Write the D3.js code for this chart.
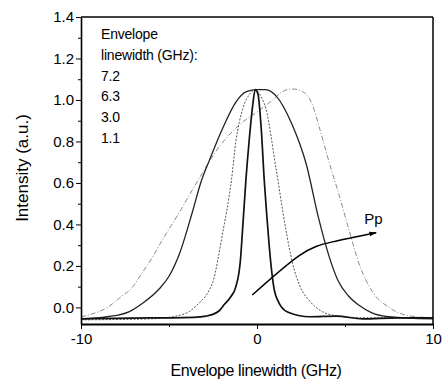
<!DOCTYPE html>
<html lang="en">
<head>
	<meta charset="UTF-8"/>
	<title>Envelope linewidth</title>
	<script src="https://d3js.org/d3.v7.min.js"></script>
	<style>
		body { margin: 0; background: #fff; }
		svg text { font-family: "Liberation Sans", Arial, sans-serif; fill: #000; }
	</style>
</head>
<body>
	<script>
		var w = 448;
		var h = 386;

		// legend labels, in GHz
		var widths = ["7.2", "6.3", "3.0", "1.1"];

		// 7.2 GHz (grey dashed, shifted peak)
		var x72 = [-10, -9.5, -8.5, -7.6, -7.2, -6.5, -5.95, -5.55, -4.4, -3.3, -2.1, -1.0, 0.13, 0.88, 1.44, 2.0, 2.6, 3.15, 3.6, 4.1, 4.67, 5.24, 5.8, 6.55, 7.5, 8.6, 10];
		var y72 = [-0.045, -0.035, 0.0, 0.06, 0.085, 0.17, 0.24, 0.30, 0.46, 0.62, 0.78, 0.88, 0.95, 1.0, 1.04, 1.053, 1.04, 0.976, 0.85, 0.70, 0.54, 0.37, 0.21, 0.077, 0.0, -0.04, -0.05];

		// 6.3 GHz (solid)
		var x63 = [-10, -8.5, -7.25, -6.5, -5.55, -5.0, -4.4, -3.67, -3.2, -2.7, -1.97, -1.2, -0.6, 0, 0.5, 1.08, 2.0, 2.8, 3.5, 4.1, 4.6, 5.2, 5.8, 6.5, 7.5, 10];
		var y63 = [-0.055, -0.045, -0.02, 0.02, 0.09, 0.15, 0.26, 0.46, 0.6, 0.71, 0.86, 0.99, 1.04, 1.05, 1.05, 1.02, 0.88, 0.69, 0.43, 0.245, 0.13, 0.055, 0.01, -0.025, -0.045, -0.055];

		// 3.0 GHz (dotted)
		var x30 = [-10, -6, -4.5, -3.85, -3.3, -2.8, -2.5, -1.97, -1.45, -1.2, -0.8, -0.4, -0.1, 0.2, 0.5, 1.08, 1.65, 2.0, 2.4, 3.0, 3.7, 4.5, 6, 10];
		var y30 = [-0.06, -0.055, -0.04, -0.02, 0.02, 0.07, 0.125, 0.35, 0.615, 0.8, 0.96, 1.03, 1.05, 1.02, 0.96, 0.67, 0.37, 0.22, 0.11, 0.03, -0.02, -0.04, -0.05, -0.05];

		// 1.1 GHz (thick solid)
		var x11 = [-10, -6, -4.8, -3.6, -2.9, -2.2, -1.85, -1.5, -1.2, -0.95, -0.8, -0.63, -0.45, -0.25, -0.1, 0.05, 0.25, 0.41, 0.55, 0.7, 0.98, 1.2, 1.36, 1.84, 3, 4.5, 6, 8, 10];
		var y11 = [-0.055, -0.05, -0.05, -0.048, -0.042, -0.02, 0.015, 0.05, 0.1, 0.22, 0.4, 0.615, 0.8, 0.97, 1.05, 1.03, 0.85, 0.615, 0.45, 0.29, 0.085, 0.03, 0.005, -0.026, -0.045, -0.042, -0.055, -0.05, -0.05];

		// Pp arrow path (data coords)
		var arrowX = [-0.27, 2.4, 4.28, 6.77];
		var arrowY = [0.06, 0.25, 0.316, 0.36];

		var xTicks = [-10, 0, 10];
		var yTicks = [0.0, 0.2, 0.4, 0.6, 0.8, 1.0, 1.2, 1.4];

		var xScale = d3.scaleLinear().domain([-10, 10]).range([81, 433]);
		var yScale = d3.scaleLinear().domain([-0.08, 1.4]).range([324, 17]);

		var svg = d3.select("body")
			.append("svg")
			.attr("width", w)
			.attr("height", h);

		var curves = [
			{ x: x72, y: y72, color: "#8a8a8a", width: 1, dash: "5,2,1,2" },
			{ x: x63, y: y63, color: "#222", width: 1.3, dash: null },
			{ x: x30, y: y30, color: "#555", width: 1, dash: "2,1.5" },
			{ x: x11, y: y11, color: "#111", width: 1.7, dash: null }
		];

		var line = d3.line()
			.x(function(d) { return xScale(d[0]); })
			.y(function(d) { return yScale(d[1]); })
			.curve(d3.curveMonotoneX);

		svg.append("clipPath").attr("id", "clip")
			.append("rect")
			.attr("x", 81).attr("y", 17)
			.attr("width", 352).attr("height", 307);

		svg.selectAll("path.curve")
			.data(curves)
			.enter()
			.append("path")
			.attr("class", "curve")
			.attr("clip-path", "url(#clip)")
			.attr("d", function(c) { return line(c.x.map(function(v, i) { return [v, c.y[i]]; })); })
			.attr("fill", "none")
			.attr("stroke", function(c) { return c.color; })
			.attr("stroke-width", function(c) { return c.width; })
			.attr("stroke-dasharray", function(c) { return c.dash; });

		// frame
		svg.append("line").attr("x1", 81).attr("x2", 433).attr("y1", 17).attr("y2", 17)
			.attr("stroke", "#000").attr("stroke-width", 1.3);
		svg.append("line").attr("x1", 433).attr("x2", 433).attr("y1", 17).attr("y2", 324)
			.attr("stroke", "#000").attr("stroke-width", 1.5);

		// axes
		var xAxis = d3.axisBottom(xScale).tickValues(xTicks).tickSize(5).tickSizeOuter(0).tickPadding(4)
			.tickFormat(function(d) { return String(d); });
		var gx = svg.append("g").attr("transform", "translate(0,324)").call(xAxis);
		svg.append("g").attr("transform", "translate(0,324)")
			.call(d3.axisBottom(xScale).tickValues([-5, 5]).tickSize(3).tickFormat(""))
			.select(".domain").remove();

		var yAxis = d3.axisLeft(yScale).tickValues(yTicks).tickSize(5).tickSizeOuter(0).tickPadding(2)
			.tickFormat(function(d) { return d.toFixed(1); });
		var gy = svg.append("g").attr("transform", "translate(81,0)").call(yAxis);
		svg.append("g").attr("transform", "translate(81,0)")
			.call(d3.axisLeft(yScale).tickValues([0.1, 0.3, 0.5, 0.7, 0.9, 1.1, 1.3]).tickSize(3).tickFormat(""))
			.select(".domain").remove();

		svg.selectAll(".tick text").attr("font-size", 15).attr("font-family", "Liberation Sans, Arial");
		svg.selectAll(".domain").attr("stroke-width", 1.6);
		gx.select(".domain").attr("stroke-width", 2);

		// axis titles
		svg.append("text")
			.attr("x", 256).attr("y", 376)
			.attr("text-anchor", "middle")
			.attr("font-size", 16)
			.attr("letter-spacing", -0.4)
			.text("Envelope linewidth (GHz)");

		svg.append("text")
			.attr("transform", "translate(28,168) rotate(-90)")
			.attr("text-anchor", "middle")
			.attr("font-size", 17)
			.text("Intensity (a.u.)");

		// legend text
		var legendLines = ["Envelope", "linewidth (GHz):"].concat(widths);
		svg.selectAll("text.legend")
			.data(legendLines)
			.enter()
			.append("text")
			.attr("class", "legend")
			.attr("x", 101)
			.attr("y", function(d, i) { return 39 + i * 20.8; })
			.attr("font-size", 14)
			.attr("letter-spacing", -0.2)
			.text(function(d) { return d; });

		// Pp arrow
		svg.append("defs").append("marker")
			.attr("id", "arrow").attr("viewBox", "0 0 10 10")
			.attr("refX", 9).attr("refY", 5)
			.attr("markerWidth", 5).attr("markerHeight", 5)
			.attr("orient", "auto")
			.append("path").attr("d", "M0,2 L10,5 L0,8 Z").attr("fill", "#000");

		svg.append("path")
			.attr("d", d3.line().x(function(d) { return xScale(d[0]); }).y(function(d) { return yScale(d[1]); })
				.curve(d3.curveNatural)(arrowX.map(function(v, i) { return [v, arrowY[i]]; })))
			.attr("fill", "none")
			.attr("stroke", "#000")
			.attr("stroke-width", 1.5)
			.attr("marker-end", "url(#arrow)");

		svg.append("text")
			.attr("x", xScale(6.1)).attr("y", yScale(0.4))
			.attr("font-size", 15)
			.text("Pp");
	</script>
</body>
</html>
